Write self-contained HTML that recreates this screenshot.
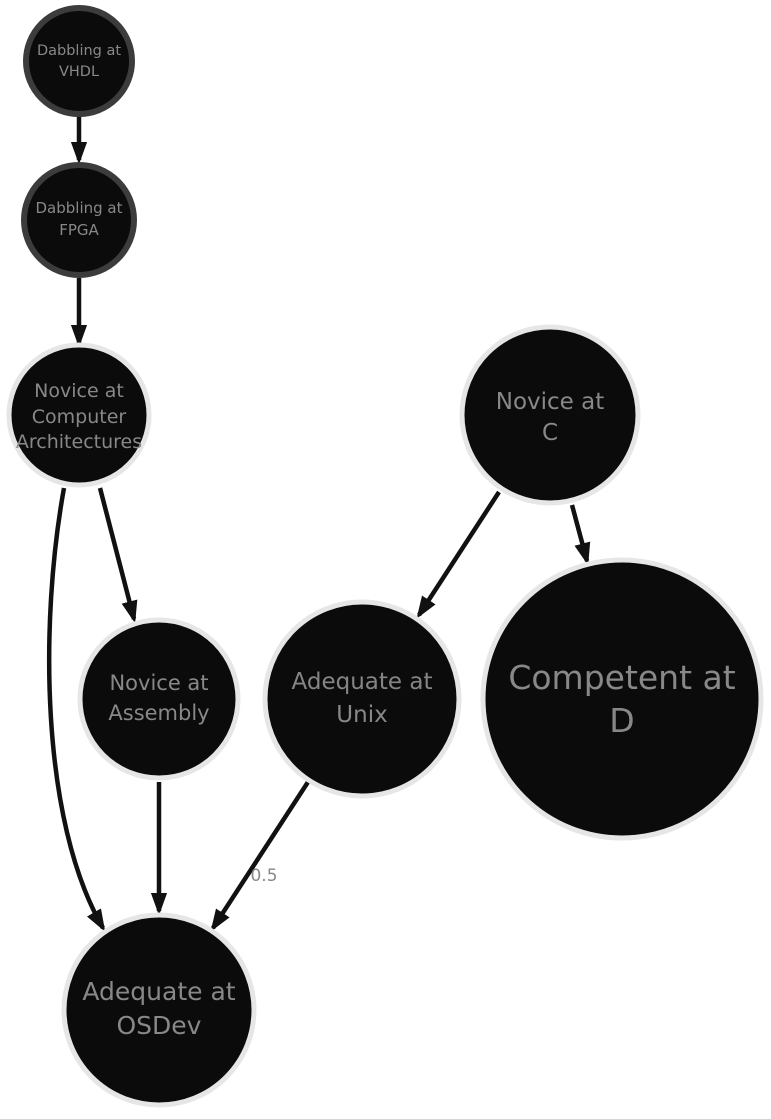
<!DOCTYPE html>
<html><head><style>body{margin:0;background:#fff}</style></head><body>
<svg width="771" height="1114" viewBox="0 0 771 1114" xmlns="http://www.w3.org/2000/svg" font-family="'DejaVu Sans','Liberation Sans',sans-serif">
<defs><marker id="a" markerWidth="5" markerHeight="5" refX="4" refY="2.5" orient="auto" markerUnits="strokeWidth"><path d="M0,0.7 L5,2.5 L0,4.3 z" fill="#111"/></marker></defs>
<g stroke="#111" stroke-width="4.5" fill="none" marker-end="url(#a)">
<line x1="79" y1="115" x2="79" y2="160"/>
<line x1="79" y1="278" x2="79" y2="343"/>
<line x1="100" y1="488" x2="134" y2="619"/>
<path d="M64,488 C40,620 40,820 103,928"/>
<line x1="159" y1="782" x2="159" y2="911"/>
<line x1="308" y1="782" x2="213" y2="928"/>
<line x1="499" y1="492" x2="419" y2="615"/>
<line x1="572" y1="505" x2="587" y2="561"/>
</g>
<g fill="#0b0b0b">
<circle cx="79" cy="61" r="53" stroke="#3c3c3c" stroke-width="6"/>
<circle cx="79" cy="220" r="55" stroke="#3c3c3c" stroke-width="6"/>
<circle cx="79" cy="415" r="70" stroke="#e6e6e6" stroke-width="5"/>
<circle cx="550" cy="415" r="88" stroke="#e6e6e6" stroke-width="5"/>
<circle cx="159" cy="699" r="79" stroke="#e6e6e6" stroke-width="5"/>
<circle cx="362" cy="699" r="97" stroke="#e6e6e6" stroke-width="5"/>
<circle cx="622" cy="699" r="139" stroke="#e6e6e6" stroke-width="5"/>
<circle cx="159" cy="1010" r="95" stroke="#e6e6e6" stroke-width="5"/>
</g>
<g fill="#888" text-anchor="middle">
<text x="79" y="55" font-size="14.5">Dabbling at</text><text x="79" y="76" font-size="14.5">VHDL</text>
<text x="79" y="213" font-size="15">Dabbling at</text><text x="79" y="235" font-size="15">FPGA</text>
<text x="79" y="397" font-size="19">Novice at</text><text x="79" y="423" font-size="19">Computer</text><text x="79" y="448" font-size="19">Architectures</text>
<text x="550" y="409" font-size="23">Novice at</text><text x="550" y="440" font-size="23">C</text>
<text x="159" y="690" font-size="21">Novice at</text><text x="159" y="720" font-size="21">Assembly</text>
<text x="362" y="689" font-size="23" font-weight="bold" fill="#858585" style="font-weight:500">Adequate at</text><text x="362" y="722" font-size="23" style="font-weight:500">Unix</text>
<text x="622" y="689" font-size="33">Competent at</text><text x="622" y="732" font-size="33">D</text>
<text x="159" y="1000" font-size="25">Adequate at</text><text x="159" y="1034" font-size="25">OSDev</text>
<text x="264" y="881" font-size="17">0.5</text>
</g>
</svg>
</body></html>
